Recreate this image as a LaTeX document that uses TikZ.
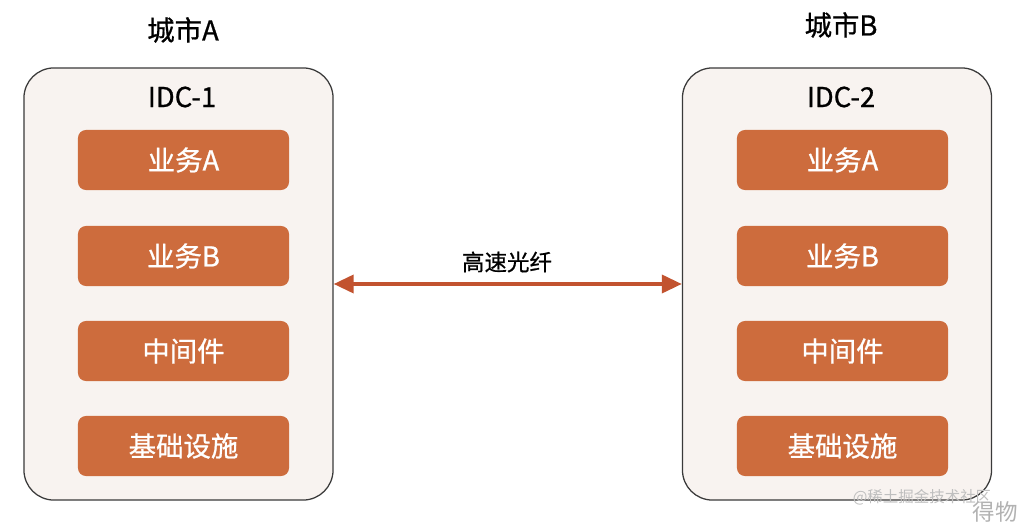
\documentclass[tikz,border=0pt]{standalone}
\usepackage{fontspec}
\setmainfont{Noto Sans CJK SC}
\newfontfamily\medfont[FakeBold=0.8]{Noto Sans CJK SC}
\usepackage{xcolor}
\usetikzlibrary{arrows.meta}

\definecolor{idcfill}{HTML}{F8F3F0}
\definecolor{idcline}{HTML}{3A3A3A}
\definecolor{svcfill}{HTML}{CD6C3D}
\definecolor{linkred}{HTML}{C2532F}

\tikzset{
  idcbox/.style={draw=idcline, fill=idcfill, line width=0.9pt, rounded corners=0.75cm,
    minimum width=7.725cm, minimum height=10.8cm},
  svcbox/.style={fill=svcfill, rounded corners=0.2cm, text=white, font=\medfont\fontsize{19.5}{22}\selectfont,
    minimum width=5.275cm, minimum height=1.5cm},
  titletext/.style={font=\medfont\fontsize{19.5}{22}\selectfont, text=black}
}

\begin{document}
\begin{tikzpicture}[x=0.025cm, y=-0.025cm]
      \useasboundingbox (0,0) rectangle (1032,525);

      % City titles
      \node[titletext] (cityA) at (183,30) {城市A};
      \node[titletext] (cityB) at (841,25) {城市B};

      % Data centres
      \node[idcbox] (idc1) at (178.5,284) {};
      \node[idcbox] (idc2) at (837,284) {};
      \node[titletext] (idc1title) at (182,97) {IDC-1};
      \node[titletext] (idc2title) at (841,97) {IDC-2};

      % Layers in each data centre
      \foreach \y/\name/\txt in {160/a/业务A, 256/b/业务B, 351/c/中间件, 446/d/基础设施} {
          \node[svcbox] (left\name) at (183.5,\y) {\txt};
          \node[svcbox] (right\name) at (842.5,\y) {\txt};
      }

      % Fibre link
      \draw[linkred, line width=2.6pt, {Triangle[length=0.5cm,width=0.45cm]}-{Triangle[length=0.5cm,width=0.45cm]}]
          (idc1.east) -- (idc2.west);
      \node[font=\medfont\fontsize{16}{18}\selectfont] (fibre) at (507,262) {高速光纤};

      % Watermark
      \node[text=black!25, font=\fontsize{11}{13}\selectfont] (mark1) at (922,497) {@稀土掘金技术社区};
      \node[text=black!30, font=\fontsize{16}{18}\selectfont] (mark2) at (995,512) {得物};
  \end{tikzpicture}
\end{document}
